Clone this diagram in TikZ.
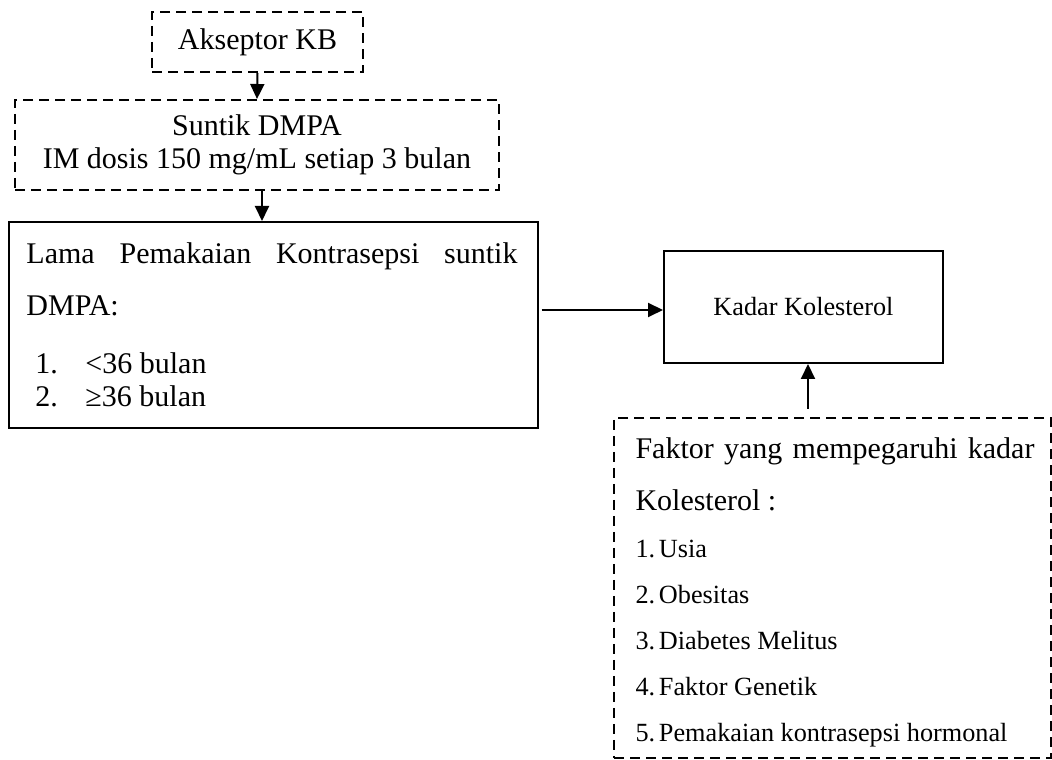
\documentclass[tikz,border=0pt]{standalone}
\usepackage{fontspec}
\setmainfont{Liberation Serif}
\usetikzlibrary{arrows.meta}
\newcommand{\hurufkecil}{\fontsize{10.5pt}{12pt}\selectfont}

\begin{document}
\begin{tikzpicture}[x=16pt, y=16pt, font=\fontsize{12pt}{13.2pt}\selectfont, line join=miter,
	kotak/.style={draw, line width=0.8pt, inner sep=0pt, align=center},
	kotakputus/.style={kotak, dash pattern=on 4pt off 2.4pt},
	panah/.style={-{Triangle[length=6pt, width=5.6pt]}, line width=0.8pt},
	teks/.style={anchor=north west, align=left, inner sep=0pt}]
	
	\useasboundingbox (0, 0) rectangle (26.3, -19);
	
	% Alur kontrasepsi
	\node[kotakputus, minimum width=84.4pt, minimum height=24pt] (akseptor) at (6.4375, -1.05) {Akseptor KB};
	\node[kotakputus, minimum width=193.6pt, minimum height=36pt] (suntik) at (6.425, -3.625) {Suntik DMPA\\IM dosis 150 mg/mL setiap 3 bulan};
	\node[kotak, minimum width=211.6pt, minimum height=82.4pt] (lama) at (6.8375, -8.125) {};
	\node[teks] (lamateks) at ([xshift=7.2pt, yshift=-8.4pt]lama.north west) {\makebox[196.4pt][s]{Lama Pemakaian Kontrasepsi suntik}\\[7.6pt]DMPA:\\[10pt]\hspace*{3.6pt}\makebox[20pt][l]{1.}<36 bulan\\\hspace*{3.6pt}\makebox[20pt][l]{2.}≥36 bulan};
	
	% Kadar kolesterol dan faktornya
	\node[kotak, font=\hurufkecil, minimum width=111.6pt, minimum height=44.8pt] (kadar) at (20.0875, -7.675) {Kadar Kolesterol};
	\node[kotakputus, minimum width=174.8pt, minimum height=136pt] (faktor) at (20.8125, -14.7) {};
	\node[teks] (faktorteks) at ([xshift=8.8pt, yshift=-8pt]faktor.north west) {\makebox[159.6pt][s]{Faktor yang mempegaruhi kadar}\\[7.6pt]Kolesterol :\\[5.8pt]{\hurufkecil\makebox[9.4pt][l]{1.}Usia}\\[5.2pt]{\hurufkecil\makebox[9.4pt][l]{2.}Obesitas}\\[5.2pt]{\hurufkecil\makebox[9.4pt][l]{3.}Diabetes Melitus}\\[5.2pt]{\hurufkecil\makebox[9.4pt][l]{4.}Faktor Genetik}\\[5.2pt]{\hurufkecil\makebox[9.4pt][l]{5.}Pemakaian kontrasepsi hormonal}};
	
	\draw[panah] (akseptor.south) -- (suntik.north);
	\draw[panah] ([xshift=2pt]suntik.south) -- ([xshift=2pt]suntik.south |- lama.north);
	\draw[panah, shorten <=1pt] ([yshift=6pt]lama.east) -- ([yshift=6pt]lama.east -| kadar.west);
	\draw[panah, shorten <=3.2pt] ([xshift=1.8pt]kadar.south |- faktor.north) -- ([xshift=1.8pt]kadar.south);
\end{tikzpicture}
\end{document}
